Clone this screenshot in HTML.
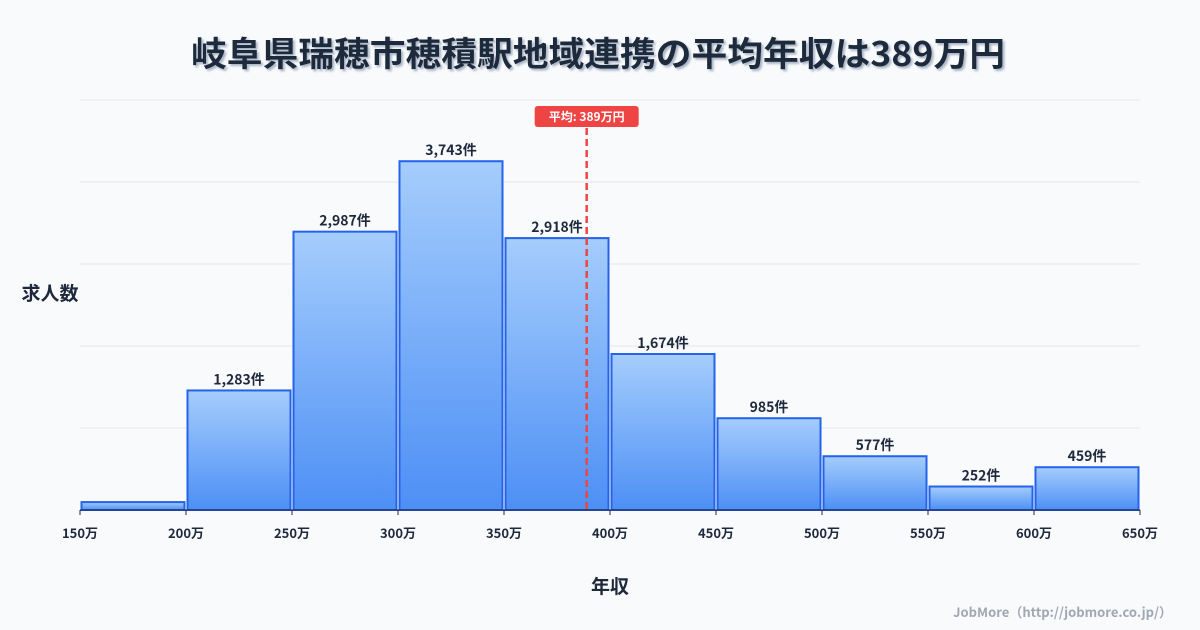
<!DOCTYPE html>
<html><head><meta charset="utf-8"><style>
html,body{margin:0;padding:0;background:#f8fafc;width:1200px;height:630px;overflow:hidden}
svg{display:block;font-family:"Noto Sans CJK JP","Liberation Sans",sans-serif}
</style></head><body>
<svg id="c" width="1200" height="630">
<defs><linearGradient id="g" x1="0" y1="0" x2="0" y2="1"><stop offset="0" stop-color="#a5cdfc"/><stop offset="1" stop-color="#4d8ff5"/></linearGradient>
<filter id="sh"><feDropShadow dx="2" dy="2" stdDeviation="1" flood-color="#94a3b8" flood-opacity="0.8"/></filter></defs>
<text x="598" y="66" text-anchor="middle" font-size="34" font-weight="bold" fill="#1e293b" filter="url(#sh)" textLength="814" lengthAdjust="spacingAndGlyphs">岐阜県瑞穂市穂積駅地域連携の平均年収は389万円</text>
<text x="50" y="300" text-anchor="middle" font-size="19" font-weight="bold" fill="#1e293b">求人数</text>
<text x="610" y="593" text-anchor="middle" font-size="19" font-weight="bold" fill="#1e293b">年収</text>
<text x="1172" y="617" text-anchor="end" font-size="13" font-weight="bold" fill="#a0a8b4">JobMore（http://jobmore.co.jp/）</text>
<g id="grid"></g><g id="bars"></g><g id="axis"></g><g id="mean"></g>
</svg>
<script>
const binEdges=[150,200,250,300,350,400,450,500,550,600,650];
const counts=[85,1283,2987,3743,2918,1674,985,577,252,459];
const countLabels=["","1,283件","2,987件","3,743件","2,918件","1,674件","985件","577件","252件","459件"];
const meanValue=389;
const yMax=4400,yStep=880;
const NS="http://www.w3.org/2000/svg";
const X0=80,X1=1140,Y0=510,Y1=100;
const xs=v=>X0+(v-150)/(650-150)*(X1-X0);
const ys=v=>Y0-v/yMax*(Y0-Y1);
function mk(t,a,p){const e=document.createElementNS(NS,t);for(const k in a)e.setAttribute(k,a[k]);p.appendChild(e);return e;}
const grid=document.getElementById('grid'),bars=document.getElementById('bars'),axis=document.getElementById('axis'),mean=document.getElementById('mean');
for(let v=yStep;v<=yMax;v+=yStep){const l=mk('line',{x1:X0,x2:X1,y1:ys(v),y2:ys(v),stroke:'#e5e7eb','stroke-width':1},grid);

}
counts.forEach((c,i)=>{const x=xs(binEdges[i])+1.5,w=xs(binEdges[i+1])-xs(binEdges[i])-3;
const r=mk('rect',{x:x,y:ys(c),width:w,height:Y0-ys(c),fill:'url(#g)',stroke:'#2563eb','stroke-width':2},bars);


if(countLabels[i]){const t=mk('text',{x:x+w/2,y:ys(c)-6,'text-anchor':'middle','font-size':14,'font-weight':'bold',fill:'#1e293b'},bars);t.textContent=countLabels[i];

}
});
mk('line',{x1:X0,x2:X1,y1:Y0,y2:Y0,stroke:'#1e293b','stroke-width':1},axis);
binEdges.forEach(v=>{mk('line',{x1:xs(v),x2:xs(v),y1:Y0,y2:Y0+5,stroke:'#1e293b'},axis);
const t=mk('text',{x:xs(v),y:Y0+28,'text-anchor':'middle','font-size':13,'font-weight':'bold',fill:'#1e293b'},axis);t.textContent=v+'万';

});
const mx=xs(meanValue);
const ml=mk('line',{x1:mx,x2:mx,y1:128,y2:Y0,stroke:'#ef4444','stroke-width':2.5,'stroke-dasharray':'7,4'},mean);


const mr=mk('rect',{x:mx-52,y:106,width:104,height:21,rx:3,fill:'#ef4444'},mean);


const mt=mk('text',{x:mx,y:121,'text-anchor':'middle','font-size':12,'font-weight':'bold',fill:'#fff'},mean);mt.textContent='平均: '+meanValue+'万円';


</script>
</body></html>
